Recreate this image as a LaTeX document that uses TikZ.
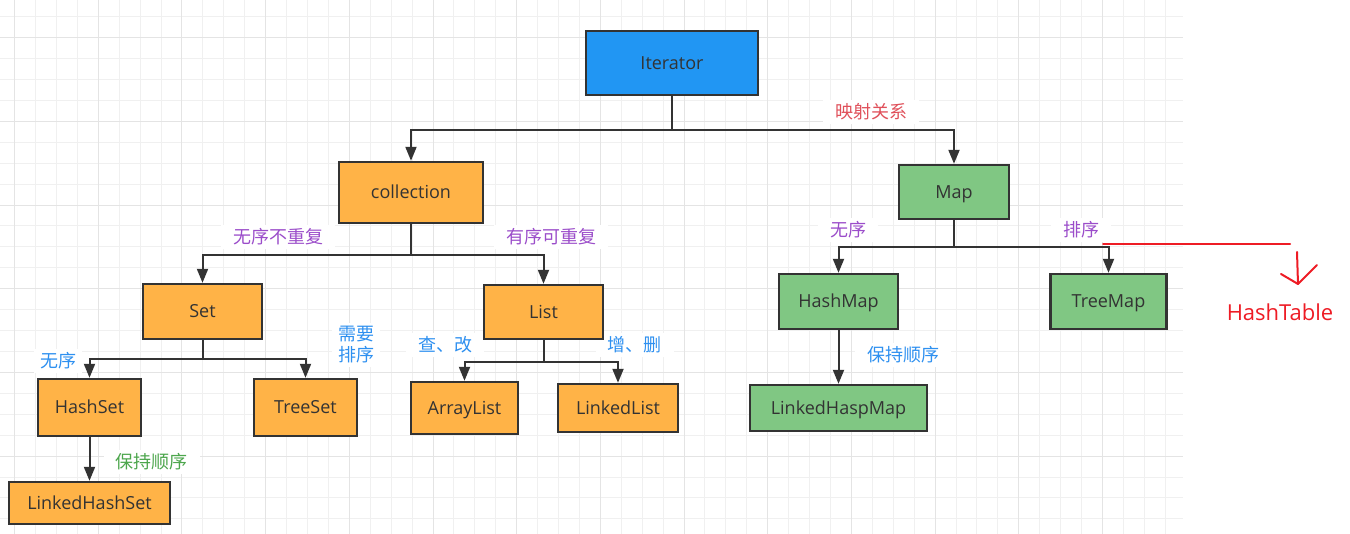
\documentclass[tikz,border=0pt]{standalone}
\usepackage{fontspec}
\setmainfont{Open Sans}
\newfontfamily\cjk{Noto Sans CJK SC}
\usetikzlibrary{arrows.meta}
\definecolor{boxline}{HTML}{333333}
\definecolor{txt}{HTML}{333333}
\definecolor{bluefill}{HTML}{2196F3}
\definecolor{orangefill}{HTML}{FFB347}
\definecolor{greenfill}{HTML}{80C783}
\definecolor{gridminor}{HTML}{F0F0F0}
\definecolor{gridmajor}{HTML}{E4E4E4}
\definecolor{lblpurple}{HTML}{9B4DCA}
\definecolor{lblblue}{HTML}{2E90F0}
\definecolor{lblgreen}{HTML}{4CA64C}
\definecolor{lblred}{HTML}{E0505A}
\definecolor{annred}{HTML}{EE1C25}
\begin{document}
\begin{tikzpicture}[x=1pt,y=-1pt,
  box/.style={draw=boxline, line width=2.4pt, text=txt, inner sep=0pt,
    font=\fontsize{18}{21}\selectfont, text height=12.9pt, text depth=0pt},
  bbox/.style={box, fill=bluefill},
  obox/.style={box, fill=orangefill},
  gbox/.style={box, fill=greenfill},
  arr/.style={draw=boxline, line width=2pt, -{Triangle[length=14pt,width=11pt]}},
  lbl/.style={fill=white, inner xsep=12pt, inner ysep=4pt,
    font=\cjk\fontsize{18}{21}\selectfont, align=center},
  gminor/.style={draw=gridminor, line width=1pt},
  gmajor/.style={draw=gridmajor, line width=1pt},
  annot/.style={draw=annred, line width=2pt, line cap=round, line join=round}]
\useasboundingbox (0,0) rectangle (1350,534);
\fill[white] (0,0) rectangle (1350,534);
% grid
\foreach \k [evaluate=\k as \xx using 14.6+20.92*\k] in {0,...,55}
  {\draw[gminor] (\xx,0) -- (\xx,534);}
\foreach \k [evaluate=\k as \yy using 16.8+20.92*\k] in {0,...,24}
  {\draw[gminor] (0,\yy) -- (1183,\yy);}
\foreach \k [evaluate=\k as \xx using 14.6+83.68*\k] in {0,...,13}
  {\draw[gmajor] (\xx,0) -- (\xx,534);}
\foreach \k [evaluate=\k as \yy using 37.7+83.68*\k] in {0,...,5}
  {\draw[gmajor] (0,\yy) -- (1183,\yy);}

% labels (drawn first so boxes and connectors lie over their white backgrounds)
\node[lbl, text=lblred] (l1) at (871,112) {映射关系};
\node[lbl, text=lblpurple] (l2) at (278,237) {无序不重复};
\node[lbl, text=lblpurple] (l3) at (551,237) {有序可重复};
\node[lbl, text=lblblue, inner xsep=6pt] (l4) at (356,345) {需要\\排序};
\node[lbl, text=lblblue, inner xsep=6pt] (l5) at (58,361) {无序};
\node[lbl, text=lblblue] (l6) at (445,345) {查、改};
\node[lbl, text=lblblue] (l7) at (634.5,345) {增、删};
\node[lbl, text=lblgreen] (l8) at (151.5,462) {保持顺序};
\node[lbl, text=lblpurple] (l9) at (848,230) {无序};
\node[lbl, text=lblpurple] (l10) at (1081,230) {排序};
\node[lbl, text=lblblue] (l11) at (903,355) {保持顺序};

% boxes
\node[bbox, minimum width=172pt, minimum height=64pt] (iter) at (672,63) {Iterator};
\node[obox, minimum width=144pt, minimum height=61pt] (coll) at (411,192.5) {collection};
\node[obox, minimum width=119pt, minimum height=55pt] (set) at (202.5,311.5) {Set};
\node[obox, minimum width=119pt, minimum height=54pt] (list) at (543.5,312) {List};
\node[obox, minimum width=103pt, minimum height=57pt] (hset) at (89.5,407.5) {HashSet};
\node[obox, minimum width=103pt, minimum height=57pt] (tset) at (305.5,407.5) {TreeSet};
\node[obox, minimum width=107pt, minimum height=52pt] (alist) at (464.5,408) {ArrayList};
\node[obox, minimum width=120pt, minimum height=48pt] (llist) at (618,408) {LinkedList};
\node[obox, minimum width=161pt, minimum height=42pt] (lhset) at (89.5,503) {LinkedHashSet};
\node[gbox, minimum width=110pt, minimum height=54pt] (map) at (954,192) {Map};
\node[gbox, minimum width=119pt, minimum height=55pt] (hmap) at (838.5,301.5) {HashMap};
\node[gbox, minimum width=116pt, minimum height=55pt] (tmap) at (1108.5,301.5) {TreeMap};
\node[gbox, minimum width=177pt, minimum height=46pt] (lhmap) at (838.5,408) {LinkedHaspMap};

% connectors
\draw[arr] (iter.south) -- ++(0,34) -| (coll.north);
\draw[arr] (iter.south) -- ++(0,34) -| (map.north);
\draw[arr] (coll.south) -- ++(0,31) -| (set.north);
\draw[arr] (coll.south) -- ++(0,31) -| (list.north);
\draw[arr] (set.south) -- ++(0,19) -| (hset.north);
\draw[arr] (set.south) -- ++(0,19) -| (tset.north);
\draw[arr] (list.south) -- ++(0,22) -| (alist.north);
\draw[arr] (list.south) -- ++(0,22) -| (llist.north);
\draw[arr] (hset.south) -- (lhset.north);
\draw[arr] (map.south) -- ++(0,27) -| (hmap.north);
\draw[arr] (map.south) -- ++(0,27) -| (tmap.north);
\draw[arr] (hmap.south) -- (lhmap.north);

% red annotation
\coordinate (r1) at (1103,244);
\coordinate (r2) at (1290,244);
\coordinate (a1) at (1297,252);
\coordinate (a2) at (1298,284);
\coordinate (a3) at (1281,274);
\coordinate (a4) at (1317,265);
\draw[annot] (r1) -- (r2);
\draw[annot] (a1) -- (a2);
\draw[annot] (a3) -- (a2) -- (a4);
\node[text=annred, font=\fontsize{22}{26}\selectfont, inner sep=0pt] (ht) at (1280,312) {HashTable};
\end{tikzpicture}
\end{document}
